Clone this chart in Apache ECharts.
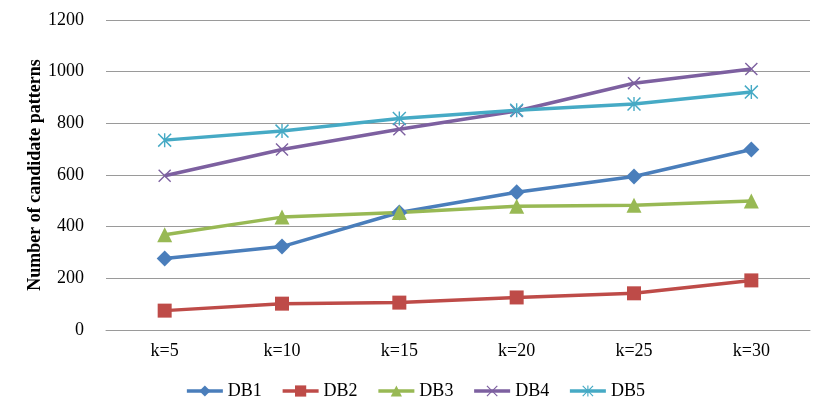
<!DOCTYPE html>
<html>
<head>
<meta charset="utf-8">
<script src="https://cdn.jsdelivr.net/npm/echarts@6/dist/echarts.min.js"></script>
<style>
  html, body { margin: 0; padding: 0; background: #fff; }
  #chart { width: 830px; height: 415px; }
</style>
</head>
<body>
<div id="chart"></div>
<script>
// Chart data
const categories = ['k=5', 'k=10', 'k=15', 'k=20', 'k=25', 'k=30'];
const db1 = [277, 323, 455, 533, 594, 699];
const db2 = [75, 102, 106, 126, 142, 192];
const db3 = [369, 437, 455, 479, 483, 499];
const db4 = [597, 699, 777, 848, 955, 1010];
const db5 = [735, 770, 819, 851, 875, 921];

// Custom marker shapes (filled outlines of a cross and an asterisk)
const crossPath = 'path://M0,1.5L1.5,0L10,8.5L18.5,0L20,1.5L11.5,10L20,18.5L18.5,20L10,11.5L1.5,20L0,18.5L8.5,10Z';
const starPath = 'path://M0,1.5L1.5,0L10,8.5L18.5,0L20,1.5L11.5,10L20,18.5L18.5,20L10,11.5L1.5,20L0,18.5L8.5,10Z M9,0L11,0L11,20L9,20Z';

const fontFamily = '"Liberation Serif", "DejaVu Serif", serif';

function makeSeries(name, data, color, symbol, size) {
  return {
    name: name,
    type: 'line',
    data: data,
    symbol: symbol,
    symbolSize: size,
    symbolKeepAspect: true,
    showAllSymbol: true,
    lineStyle: { color: color, width: 3.5 },
    itemStyle: { color: color },
    emphasis: { disabled: true }
  };
}

const chart = echarts.init(document.getElementById('chart'));
const option = {
  animation: false,
  backgroundColor: '#ffffff',
  textStyle: { fontFamily: fontFamily },
  grid: { left: 106, right: 20, top: 20, bottom: 85 },
  legend: {
    data: ['DB1', 'DB2', 'DB3', 'DB4', 'DB5'],
    left: 'center',
    top: 377,
    itemWidth: 36,
    itemHeight: 14,
    itemGap: 19,
    lineStyle: { width: 3.5 },
    textStyle: { fontFamily: fontFamily, fontSize: 18, color: '#000' }
  },
  xAxis: {
    type: 'category',
    data: categories,
    boundaryGap: true,
    axisLine: { lineStyle: { color: '#9a9a9a', width: 1 } },
    axisTick: { show: false },
    axisLabel: { color: '#000', fontSize: 18, fontFamily: fontFamily, margin: 12 }
  },
  yAxis: {
    type: 'value',
    min: 0,
    max: 1200,
    interval: 200,
    name: 'Number of candidate patterns',
    nameLocation: 'middle',
    nameGap: 62,
    nameMoveOverlap: false,
    nameTextStyle: { color: '#000', fontSize: 18, fontWeight: 'bold', fontFamily: fontFamily },
    axisLine: { show: false },
    axisTick: { show: false },
    axisLabel: {
      color: '#000', fontSize: 18, fontFamily: fontFamily, margin: 22,
      formatter: function (v) { return String(v); }
    },
    splitLine: { lineStyle: { color: '#9a9a9a', width: 1 } }
  },
  series: [
    makeSeries('DB1', db1, '#4a7ebb', 'diamond', 16),
    makeSeries('DB2', db2, '#be4b48', 'rect', 14),
    makeSeries('DB3', db3, '#98b954', 'triangle', 15),
    makeSeries('DB4', db4, '#7d60a0', crossPath, 13),
    makeSeries('DB5', db5, '#46aac5', starPath, 14)
  ]
};
chart.setOption(option);
</script>
</body>
</html>
